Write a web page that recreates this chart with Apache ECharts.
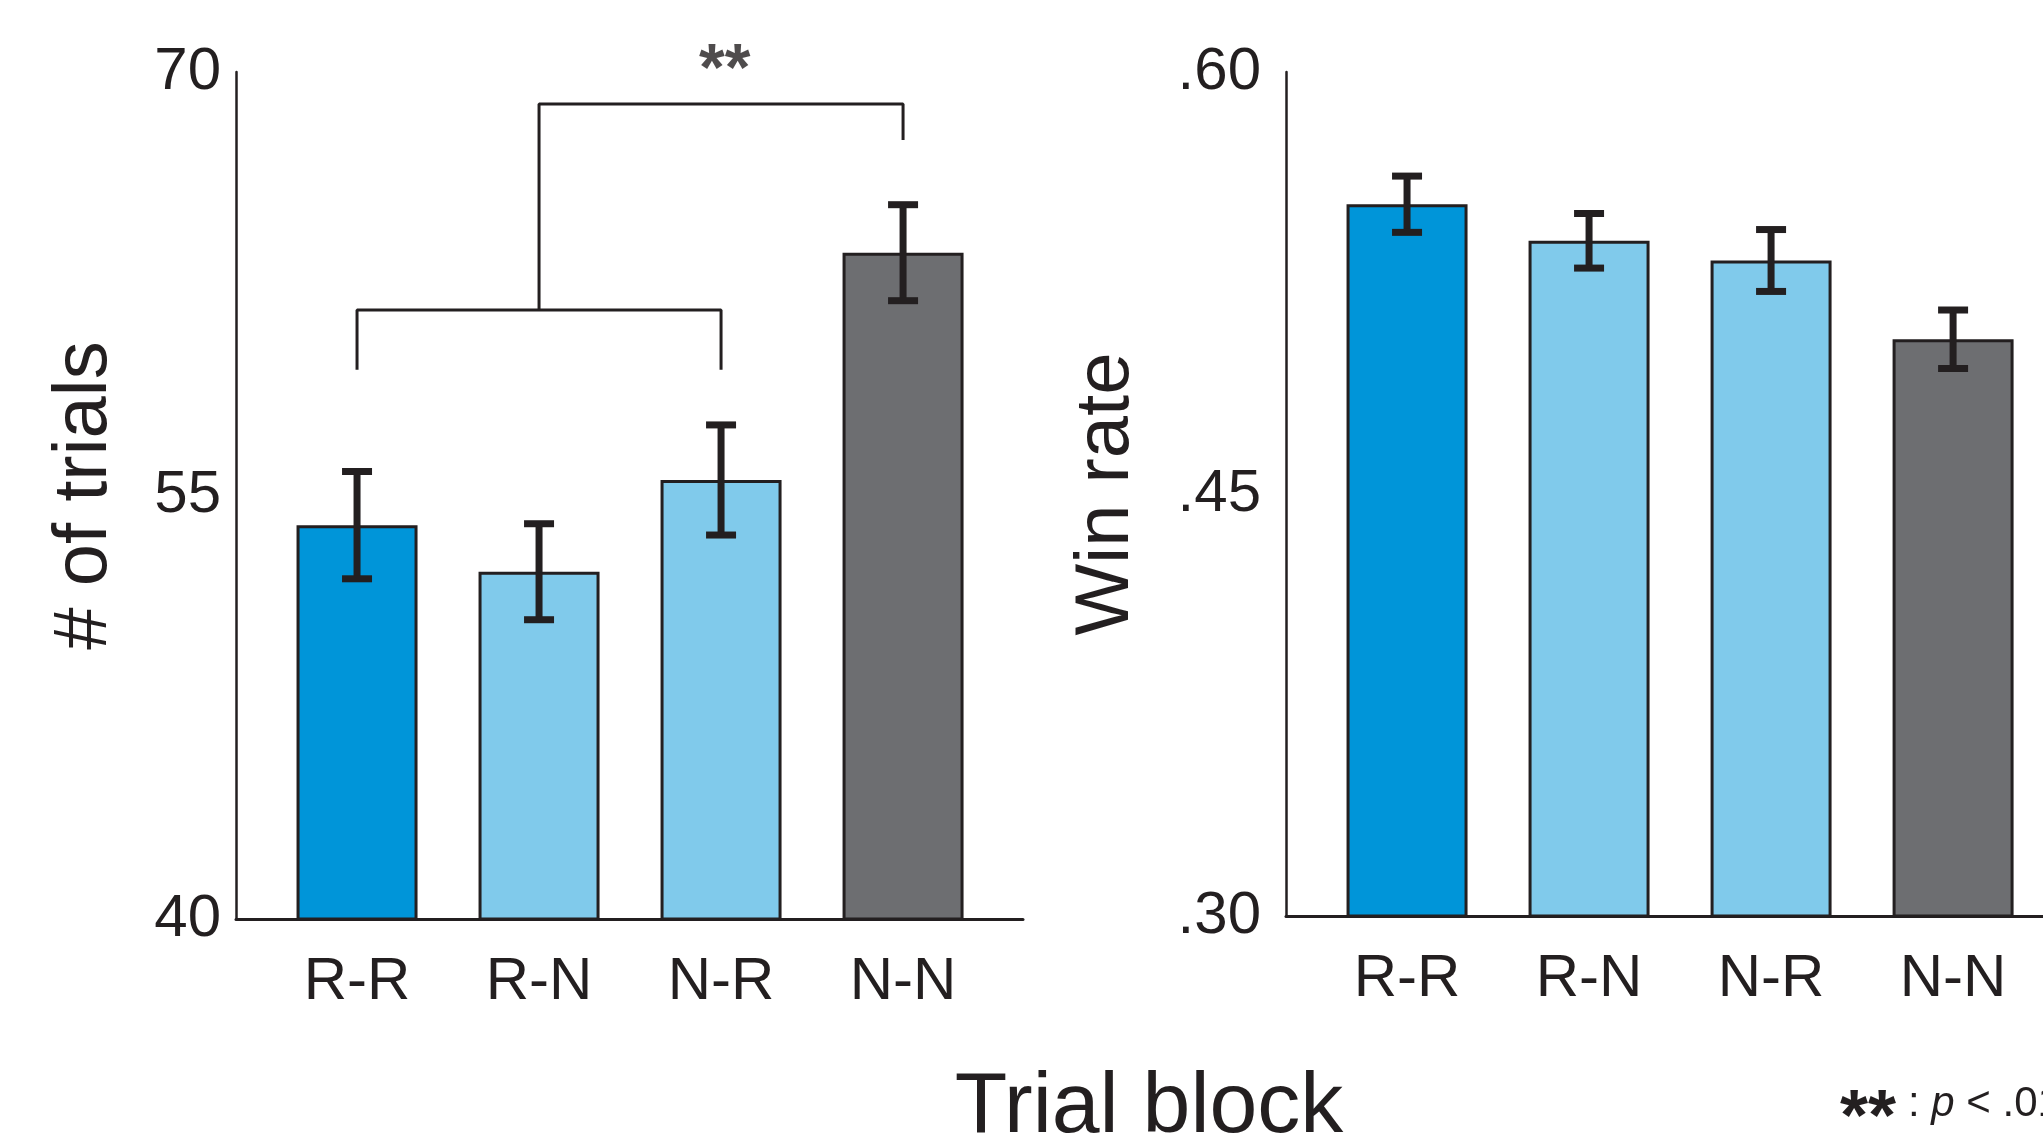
<!DOCTYPE html>
<html>
<head>
<meta charset="utf-8">
<script src="https://cdn.jsdelivr.net/npm/echarts@6/dist/echarts.min.js"></script>
<style>
  html, body { margin: 0; padding: 0; background: #fff; }
  #chart { width: 2043px; height: 1134px; }
</style>
</head>
<body>
<div id="chart"></div>
<script>
// Data
const categories = ['R-R', 'R-N', 'N-R', 'N-N'];
const trialMeans = [53.95, 52.3, 55.55, 63.6];
const trialErr = [1.9, 1.7, 1.95, 1.7];
const winMeans = [0.553, 0.540, 0.533, 0.505];
const winErr = [0.010, 0.0097, 0.011, 0.0104];
const trialTicks = [40, 55, 70];
const winTicks = [0.30, 0.45, 0.60];
// significance brackets, in (category index, # of trials)
const bracketLow = [[0, 59.45], [0, 61.57], [2, 61.57], [2, 59.45]];
const bracketHigh = [[1, 61.57], [1, 68.87], [3, 68.87], [3, 67.59]];
const starMark = [[2.02, 70.0]];

const barColors = ['#0095d9', '#80caeb', '#80caeb', '#6d6e71'];
const ink = '#231f20';
const font = '"Liberation Sans", Arial, Helvetica, sans-serif';

const chart = echarts.init(document.getElementById('chart'));

function barData(means) {
  return means.map((v, i) => ({
    value: [i, v],
    itemStyle: { color: barColors[i] },
  }));
}

function errData(means, errs) {
  return means.map((v, i) => [i, v - errs[i], v + errs[i]]);
}

// Error bar: stem plus two caps
function renderErr(params, api) {
  const x = api.value(0);
  const top = api.coord([x, api.value(2)]);
  const bot = api.coord([x, api.value(1)]);
  const half = 15;
  const style = { stroke: ink, lineWidth: 7 };
  return {
    type: 'group',
    children: [
      { type: 'line', shape: { x1: top[0], y1: top[1], x2: bot[0], y2: bot[1] }, style },
      { type: 'line', shape: { x1: top[0] - half, y1: top[1], x2: top[0] + half, y2: top[1] }, style },
      { type: 'line', shape: { x1: bot[0] - half, y1: bot[1], x2: bot[0] + half, y2: bot[1] }, style },
    ],
  };
}

// both panels use the same scale (182 px per category); the right one is cut by the page edge
function makeX(gridIndex, max) {
  return {
    type: 'value',
    gridIndex,
    min: -0.665,
    max,
    splitLine: { show: false },
    axisTick: { show: false },
    axisLine: { onZero: false, lineStyle: { color: ink, width: 3 } },
    axisLabel: {
      customValues: [0, 1, 2, 3],
      formatter: (v) => categories[Math.round(v)],
      fontFamily: font,
      fontSize: 60,
      color: ink,
      margin: 33,
    },
  };
}

const option = {
  backgroundColor: '#fff',
  animation: false,
  grid: [
    { left: 236, top: 72, width: 787, height: 847 },
    { left: 1286, top: 72, width: 757, height: 844 },
  ],
  xAxis: [makeX(0, 3.659), makeX(1, 3.494)],
  yAxis: [
    {
      type: 'value',
      gridIndex: 0,
      min: 40,
      max: 70,
      name: '# of trials',
      nameLocation: 'middle',
      nameRotate: 90,
      nameGap: 113,
      nameTextStyle: { fontFamily: font, fontSize: 76, color: ink },
      splitLine: { show: false },
      axisTick: { show: false },
      axisLine: { show: true, onZero: false, lineStyle: { color: ink, width: 2.5 } },
      axisLabel: {
        customValues: trialTicks,
        fontFamily: font,
        fontSize: 60,
        color: ink,
        margin: 15,
      },
    },
    {
      type: 'value',
      gridIndex: 1,
      min: 0.30,
      max: 0.60,
      name: 'Win rate',
      nameLocation: 'middle',
      nameRotate: 90,
      nameGap: 141,
      nameTextStyle: { fontFamily: font, fontSize: 76, color: ink },
      splitLine: { show: false },
      axisTick: { show: false },
      axisLine: { show: true, onZero: false, lineStyle: { color: ink, width: 2.5 } },
      axisLabel: {
        customValues: winTicks,
        formatter: (v) => v.toFixed(2).replace(/^0/, ''),
        fontFamily: font,
        fontSize: 60,
        color: ink,
        margin: 25,
      },
    },
  ],
  series: [
    {
      type: 'bar',
      xAxisIndex: 0,
      yAxisIndex: 0,
      barWidth: 121,
      data: barData(trialMeans),
      itemStyle: { borderColor: ink, borderWidth: 3 },
    },
    {
      type: 'custom',
      xAxisIndex: 0,
      yAxisIndex: 0,
      renderItem: renderErr,
      data: errData(trialMeans, trialErr),
      z: 5,
    },
    {
      type: 'bar',
      xAxisIndex: 1,
      yAxisIndex: 1,
      barWidth: 121,
      data: barData(winMeans),
      itemStyle: { borderColor: ink, borderWidth: 3 },
    },
    {
      type: 'custom',
      xAxisIndex: 1,
      yAxisIndex: 1,
      renderItem: renderErr,
      data: errData(winMeans, winErr),
      z: 5,
    },
    {
      type: 'line',
      xAxisIndex: 0,
      yAxisIndex: 0,
      data: bracketLow,
      symbol: 'none',
      lineStyle: { color: ink, width: 3 },
      z: 6,
    },
    {
      type: 'line',
      xAxisIndex: 0,
      yAxisIndex: 0,
      data: bracketHigh,
      symbol: 'none',
      lineStyle: { color: ink, width: 3 },
      z: 6,
    },
    {
      type: 'scatter',
      xAxisIndex: 0,
      yAxisIndex: 0,
      data: starMark,
      symbolSize: 0,
      clip: false,
      label: {
        show: true,
        position: 'inside',
        formatter: '**',
        fontFamily: font,
        fontWeight: 'bold',
        fontSize: 66,
        color: ink,
      },
      z: 6,
    },
  ],
  graphic: [
    {
      type: 'text',
      x: 1149,
      y: 1151,
      style: {
        text: 'Trial block',
        align: 'center',
        verticalAlign: 'bottom',
        font: '86px ' + font,
        fill: ink,
      },
    },
    {
      type: 'text',
      x: 1840,
      y: 1120,
      style: {
        text: '**',
        verticalAlign: 'middle',
        font: 'bold 72px ' + font,
        fill: ink,
      },
    },
    {
      type: 'text',
      x: 1908,
      y: 1104,
      style: {
        text: ': {p|p} < .01',
        verticalAlign: 'middle',
        font: '42px ' + font,
        fill: ink,
        rich: { p: { fontStyle: 'italic', fontSize: 42, fontFamily: font } },
      },
    },
  ],
};

chart.setOption(option);
</script>
</body>
</html>
